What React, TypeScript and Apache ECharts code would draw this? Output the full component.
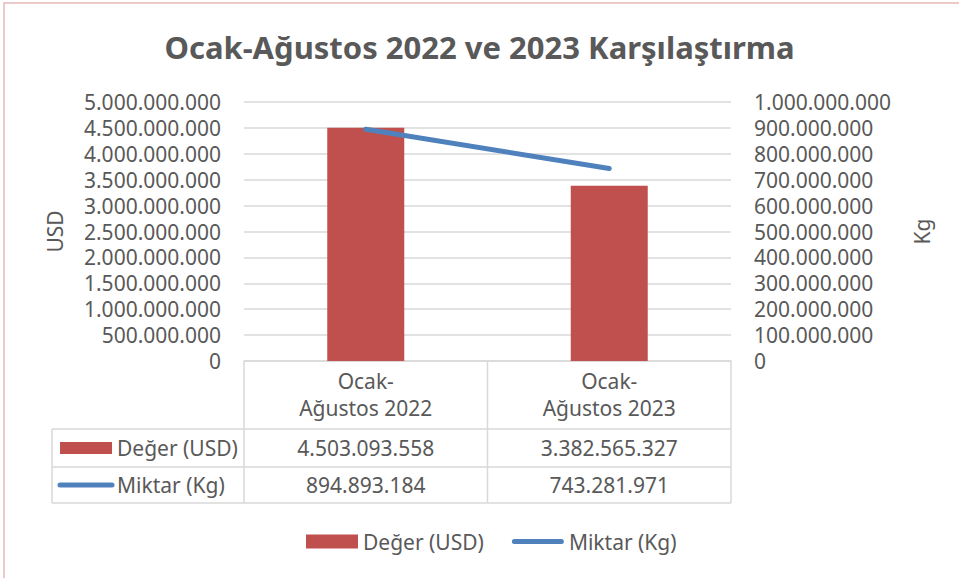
import React, { useEffect, useRef } from "react";
import * as echarts from "echarts";

const chartTitle = "Ocak-Ağustos 2022 ve 2023 Karşılaştırma";
const categories = ["Ocak-\nAğustos 2022", "Ocak-\nAğustos 2023"];
const degerName = "Değer (USD)";
const miktarName = "Miktar (Kg)";
const degerUSD = [4503093558, 3382565327];
const miktarKg = [894893184, 743281971];
const leftAxisName = "USD";
const rightAxisName = "Kg";

const fmt = (v: number) =>
  Math.round(v)
    .toString()
    .replace(/\B(?=(\d{3})+(?!\d))/g, ".");

const FONT = "Noto Sans";
const TXT = "#595959";
const GRIDC = "#d9d9d9";
const RED = "#c0504d";
const BLUE = "#4f81bd";

// layout
const W = 959;
const H = 578;
const GL = 244;
const GR = 731;
const GT = 102;
const GB = 361;
const ROW1 = 429;
const ROW2 = 467;
const ROW3 = 503;
const TL = 52;

const LINE_ICON =
  "path://M2.5,0 H49.5 A2.5,2.5 0 0 1 49.5,5 H2.5 A2.5,2.5 0 0 1 2.5,0 Z";

export default function App() {
  const ref = useRef<HTMLDivElement>(null);
  useEffect(() => {
    document.body.style.margin = "0";
    const chart = echarts.init(ref.current!, null, { renderer: "svg" });
    const colW = (GR - GL) / categories.length;
    const ln = (x1: number, y1: number, x2: number, y2: number) => ({
      type: "line",
      shape: { x1, y1, x2, y2 },
      style: { stroke: GRIDC, lineWidth: 1.5 },
      silent: true,
    });
    const txt = (text: string, x: number, y: number, align = "center") => ({
      type: "text",
      x,
      y,
      style: {
        text,
        fill: TXT,
        fontSize: 21,
        fontFamily: FONT,
        align,
        verticalAlign: "middle",
      },
      silent: true,
    });
    const graphics: any[] = [
      {
        type: "rect",
        z: -10,
        shape: { x: 4, y: 3, width: 1200, height: 1200 },
        style: { fill: "none", stroke: "#e6b9b8", lineWidth: 1.5 },
        silent: true,
      },
    ];
    // table lines
    for (let i = 0; i <= categories.length; i++) {
      graphics.push(ln(GL + colW * i, GB, GL + colW * i, ROW3));
    }
    graphics.push(ln(TL, ROW1, GR, ROW1));
    graphics.push(ln(TL, ROW2, GR, ROW2));
    graphics.push(ln(TL, ROW3, GR, ROW3));
    graphics.push(ln(TL, ROW1, TL, ROW3));
    // row keys
    graphics.push({
      type: "rect",
      shape: { x: 60, y: (ROW1 + ROW2) / 2 - 6, width: 52, height: 12 },
      style: { fill: RED },
      silent: true,
    });
    graphics.push({
      type: "line",
      shape: { x1: 60, y1: (ROW2 + ROW3) / 2, x2: 112, y2: (ROW2 + ROW3) / 2 },
      style: { stroke: BLUE, lineWidth: 5, lineCap: "round" },
      silent: true,
    });
    graphics.push(txt(degerName, 117, (ROW1 + ROW2) / 2, "left"));
    graphics.push(txt(miktarName, 117, (ROW2 + ROW3) / 2, "left"));
    degerUSD.forEach((v, i) => {
      graphics.push(txt(fmt(v), GL + colW * (i + 0.5), (ROW1 + ROW2) / 2));
    });
    miktarKg.forEach((v, i) => {
      graphics.push(txt(fmt(v), GL + colW * (i + 0.5), (ROW2 + ROW3) / 2));
    });

    chart.setOption({
      animation: false,
      backgroundColor: "#ffffff",
      title: {
        text: chartTitle,
        left: "center",
        top: 26,
        textStyle: {
          fontFamily: FONT,
          fontSize: 31,
          fontWeight: "bold",
          color: TXT,
        },
      },
      grid: { left: GL, right: W - GR, top: GT, bottom: H - GB, containLabel: false },
      legend: {
        left: 306,
        top: 531,
        padding: 0,
        itemWidth: 52,
        itemHeight: 14,
        itemGap: 28,
        textStyle: { fontSize: 21, color: TXT, fontFamily: FONT },
        data: [
          { name: degerName, icon: "rect" },
          { name: miktarName, icon: LINE_ICON, itemStyle: { color: BLUE } },
        ],
      },
      xAxis: {
        type: "category",
        data: categories,
        axisLine: { show: true, lineStyle: { color: GRIDC, width: 1.5 } },
        axisTick: { show: false },
        axisLabel: {
          fontSize: 21,
          lineHeight: 27,
          color: TXT,
          fontFamily: FONT,
          margin: 6,
          interval: 0,
        },
      },
      yAxis: [
        {
          type: "value",
          min: 0,
          max: 5000000000,
          interval: 500000000,
          name: leftAxisName,
          nameLocation: "middle",
          nameRotate: 90,
          nameGap: 179,
          nameTextStyle: { fontSize: 21, color: TXT, fontFamily: FONT },
          axisLine: { show: false },
          axisTick: { show: false },
          splitLine: { lineStyle: { color: GRIDC, width: 1.5 } },
          axisLabel: {
            fontSize: 21,
            color: TXT,
            fontFamily: FONT,
            margin: 23,
            formatter: (v: number) => fmt(v),
          },
        },
        {
          type: "value",
          min: 0,
          max: 1000000000,
          interval: 100000000,
          position: "right",
          name: rightAxisName,
          nameLocation: "middle",
          nameRotate: 90,
          nameGap: 180,
          nameTextStyle: { fontSize: 21, color: TXT, fontFamily: FONT },
          axisLine: { show: false },
          axisTick: { show: false },
          splitLine: { show: false },
          axisLabel: {
            fontSize: 21,
            color: TXT,
            fontFamily: FONT,
            margin: 23,
            formatter: (v: number) => fmt(v),
          },
        },
      ],
      series: [
        {
          name: degerName,
          type: "bar",
          data: degerUSD,
          barWidth: 77,
          itemStyle: { color: RED },
          yAxisIndex: 0,
        },
        {
          name: miktarName,
          type: "line",
          data: miktarKg,
          yAxisIndex: 1,
          symbol: "none",
          lineStyle: { color: BLUE, width: 5, cap: "round" },
          itemStyle: { color: BLUE },
        },
      ],
      graphic: graphics,
    });
    return () => chart.dispose();
  }, []);
  return <div ref={ref} style={{ width: W, height: H }} />;
}
